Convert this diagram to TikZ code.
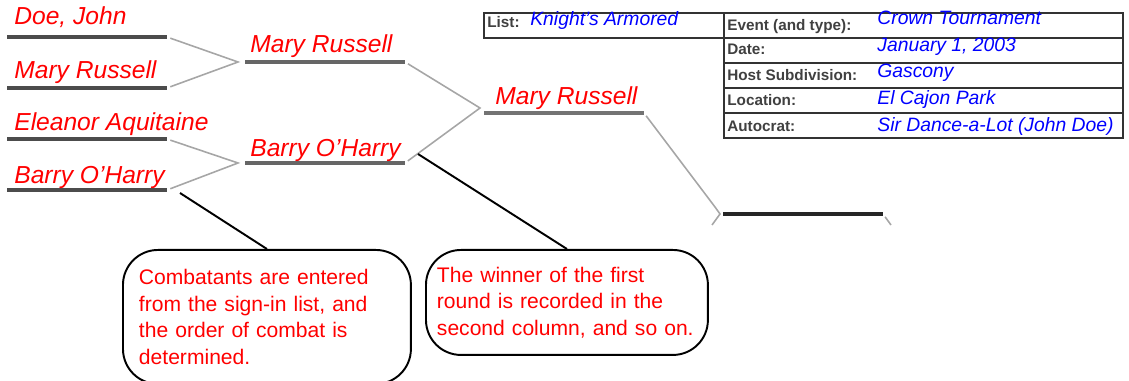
\documentclass[tikz,border=0pt]{standalone}
\usepackage{fontspec}
\setmainfont{Liberation Sans}
\begin{document}
\begin{tikzpicture}[x=0.02cm, y=-0.02cm,
  fighter/.style={anchor=base west, inner sep=0, text=red, font=\fontsize{14}{16}\selectfont\itshape},
  slot/.style={draw=black!70, line width=2pt},
  link/.style={draw=black!35, line width=0.9pt, shorten <=2pt, shorten >=2pt},
  cell/.style={draw=black!80, line width=1.3pt, anchor=north west, minimum height=0.5cm, inner sep=0},
  fieldlabel/.style={anchor=base west, inner sep=0, text=black!75, font=\fontsize{8.7}{10}\selectfont\bfseries},
  fieldvalue/.style={anchor=base west, inner sep=0, text=blue, font=\fontsize{11}{13}\selectfont\itshape},
  note/.style={draw, line width=1.1pt, rounded corners=0.7cm, anchor=north west, align=left, inner ysep=0, text=red, font=\fontsize{12}{15}\selectfont},
  pointer/.style={draw, line width=1.1pt}]
  \useasboundingbox (0,0) rectangle (1129,381);
  % Slots
  \draw[slot] (7,37) coordinate (s1w) -- (167,37) coordinate (s1e);
  \draw[slot] (7,88) coordinate (s2w) -- (167,88) coordinate (s2e);
  \draw[slot] (7,139) coordinate (s3w) -- (167,139) coordinate (s3e);
  \draw[slot] (7,190) coordinate (s4w) -- (167,190) coordinate (s4e);
  \draw[slot, draw=black!60] (245,62) coordinate (s5w) -- (405,62) coordinate (s5e);
  \draw[slot, draw=black!60] (245,163) coordinate (s6w) -- (405,163) coordinate (s6e);
  \draw[slot, draw=black!55] (484,113) coordinate (s7w) -- (644,113) coordinate (s7e);
  \draw[slot, draw=black!85] (723,214) coordinate (s8w) -- (883,214) coordinate (s8e);
  % Fighters
  \node (f1) [fighter] at (14,25) {Doe, John};
  \node (f2) [fighter] at (14,79) {Mary Russell};
  \node (f3) [fighter] at (14,131) {Eleanor Aquitaine};
  \node (f4) [fighter] at (14,184) {Barry O'Harry};
  \node (w1) [fighter] at (250,53) {Mary Russell};
  \node (w2) [fighter] at (250,157) {Barry O'Harry};
  \node (w3) [fighter] at (495,105) {Mary Russell};
  % Links
  \coordinate (j1) at (238,62);
  \coordinate (j2) at (238,163);
  \coordinate (j3) at (480,108);
  \coordinate (j4) at (720,214);
  \draw[link] (s1e) -- (j1) -- (s2e);
  \draw[link] (s3e) -- (j2) -- (s4e);
  \draw[link] (s5e) -- (j3) -- (s6e);
  \draw[link, shorten >=0pt] (s7e) -- (715,207) -- (j4) -- (712,225);
  \draw[link, shorten >=0pt] (s8e) -- (891,225);
  % Event table
  \node (list) [cell, minimum width=4.8cm] at (483,12) {};
  \node (row1) [cell, minimum width=7.98cm] at (723,12) {};
  \node (row2) [cell, minimum width=7.98cm] at (723,37) {};
  \node (row3) [cell, minimum width=7.98cm] at (723,62) {};
  \node (row4) [cell, minimum width=7.98cm] at (723,87) {};
  \node (row5) [cell, minimum width=7.98cm] at (723,112) {};
  \node (listlabel) [fieldlabel] at (487,28) {List:};
  \node (listvalue) [fieldvalue] at (530,26) {Knight's Armored};
  \node (eventlabel) [fieldlabel] at (727,31) {Event (and type):};
  \node (eventvalue) [fieldvalue] at (877,25) {Crown Tournament};
  \node (datelabel) [fieldlabel] at (727,55) {Date:};
  \node (datevalue) [fieldvalue] at (877,52) {January 1, 2003};
  \node (hostlabel) [fieldlabel] at (727,81) {Host Subdivision:};
  \node (hostvalue) [fieldvalue] at (877,78) {Gascony};
  \node (placelabel) [fieldlabel] at (727,106) {Location:};
  \node (placevalue) [fieldvalue] at (877,105) {El Cajon Park};
  \node (autolabel) [fieldlabel] at (727,132) {Autocrat:};
  \node (autovalue) [fieldvalue] at (877,132) {Sir Dance-a-Lot (John Doe)};
  % Notes
  \node (note1) [note, text width=5.12cm, inner xsep=0.32cm, minimum height=2.68cm] at (122,249)
    {Combatants are entered\\from the sign-in list, and\\the order of combat is\\determined.};
  \node (note2) [note, text width=5.2cm, inner xsep=0.22cm, minimum height=2.1cm] at (425,249)
    {The winner of the first\\round is recorded in the\\second column, and so on.};
  \draw[pointer] (note1.north) -- ([shift={(13,3)}]s4e);
  \draw[pointer] (note2.north) -- ([shift={(13,-9)}]s6e);
\end{tikzpicture}
\end{document}
